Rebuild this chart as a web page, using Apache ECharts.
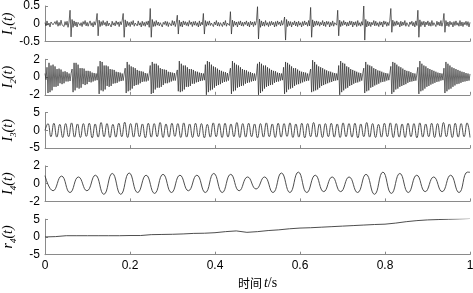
<!DOCTYPE html>
<html><head><meta charset="utf-8">
<script src="https://cdn.jsdelivr.net/npm/echarts@6/dist/echarts.min.js"></script>
<style>html,body{margin:0;padding:0;background:#fff}#c{width:473px;height:293px}</style>
</head><body><div id="c"></div>
<script>
// ---- data ----
const xTicks = [0, 0.2, 0.4, 0.6, 0.8, 1];
const yLabels = ['I1(t)', 'I2(t)', 'I3(t)', 'I4(t)', 'r4(t)'];
const yRanges = [[-0.5, 0.5, 0.5], [-2, 2, 2], [-5, 5, 5], [-2, 2, 2], [-5, 5, 5]];

// I1: noise with periodic spikes (uniform sampling over 0..1 s)
const imf1 = [
.03,-.06,.08,-.04,.02,-.09,.05,.07,-.03,-.08,.06,-.02,.09,-.07,.04,-.05,.1,-.03,.02,-.08,.06,-.04,.07,-.1,.05,
.38,-.37,.12,-.1,.08,-.06,.05,-.09,.04,.07,-.05,.03,-.08,.06,-.02,.09,-.06,.04,-.07,.02,.08,-.05,.03,-.09,.06,
-.04,.07,.29,-.34,.1,-.08,.06,-.05,.09,-.03,.04,-.07,.08,-.06,.02,.05,-.09,.07,-.04,.03,-.06,.08,-.02,.05,-.08,
.06,-.03,.09,.29,-.38,.11,-.09,.07,-.05,.04,-.08,.06,-.03,.09,-.07,.02,.05,-.06,.08,-.04,.03,-.09,.07,-.05,.04,
-.07,.06,-.03,.08,-.1,.43,-.38,.12,-.08,.06,-.07,.09,-.04,.05,-.06,.03,.08,-.09,.04,-.02,.07,-.05,.06,-.08,.03,
.05,-.06,.09,-.04,.07,-.08,.04,.24,-.29,.1,-.07,.05,-.09,.08,-.03,.06,-.05,.04,-.07,.09,-.02,.05,-.08,.06,-.04,
.07,-.05,.03,-.09,.08,-.06,.04,-.03,.29,-.29,.09,-.07,.06,-.04,.08,-.05,.02,.07,-.08,.05,-.03,.09,-.06,.04,-.07,
.03,.06,-.08,.05,-.04,.09,-.07,.02,.06,-.05,.34,-.29,.1,-.08,.07,-.04,.05,-.09,.06,-.03,.08,-.06,.04,-.07,.05,
-.02,.08,-.06,.04,-.09,.07,-.03,.05,-.08,.06,-.04,.09,.48,-.43,.13,-.1,.08,-.06,.05,-.07,.09,-.04,.03,-.08,.06,
-.05,.07,-.03,.04,-.09,.06,-.07,.08,-.02,.05,-.06,.09,-.04,.03,.19,-.46,.12,-.08,.07,-.05,.06,-.09,.04,-.03,.08,
-.06,.05,-.08,.07,-.04,.03,-.09,.06,-.05,.08,-.03,.04,-.07,.09,-.06,.46,-.38,.11,-.09,.07,-.05,.08,-.04,.06,-.07,
.04,-.03,.09,-.06,.05,-.08,.07,-.02,.06,-.09,.04,-.05,.08,-.07,.03,.06,-.04,.38,-.34,.1,-.08,.06,-.05,.09,-.03,
.05,-.07,.04,-.06,.08,-.03,.07,-.09,.05,-.04,.06,-.08,.09,-.05,.03,-.07,.06,-.04,.5,-.46,.12,-.09,.07,-.06,.05,
-.08,.04,-.03,.09,-.06,.07,-.05,.03,-.08,.06,-.04,.05,-.09,.08,-.02,.06,-.07,.04,-.05,.09,.43,-.24,.1,-.07,.06,
-.05,.08,-.03,.04,-.09,.07,-.06,.05,-.04,.09,-.07,.03,.06,-.08,.05,-.02,.07,-.06,.04,-.09,.08,-.05,.38,-.38,.11,
-.08,.06,-.04,.07,-.09,.05,-.03,.08,-.06,.04,-.07,.09,-.05,.03,.06,-.08,.07,-.04,.05,-.06,.09,-.07,.04,.29,-.24,
.09,-.06,.05,-.08,.07,-.03,.04,-.09,.06,-.05,.08,-.04,.03,-.07,.09,-.06,.05,-.08,.04,-.03,.07,-.05,.06,-.09,.04
];

// I2: decaying high-frequency bursts, one line per burst (uniform sampling over 0..1 s)
const imf2 = [
.4,-.3,
1.1,-1.8,1.6,-1.7,1.3,-1.5,1.4,-1.1,1.2,-1.1,.9,-1.0,.95,-.7,.85,-.8,.6,-.7,.65,-.5,.55,-.5,.4,-.45,.4,
.9,-1.7,1.6,-1.5,1.6,-1.2,1.4,-1.3,1.0,-1.2,1.0,-.8,.95,-.9,.7,-.8,.7,-.55,.65,-.6,.5,-.5,.45,-.4,.4,-.35,
1.2,-1.9,1.8,-1.5,1.7,-1.6,1.3,-1.4,1.3,-1.0,1.2,-1.1,.9,-1.0,.85,-.75,.8,-.7,.6,-.65,.55,-.5,.5,-.45,.4,-.4,.35,
1.0,-1.8,1.7,-1.6,1.4,-1.5,1.2,-1.3,1.1,-1.0,1.0,-.9,.8,-.85,.7,-.7,.65,-.55,.6,-.5,.45,-.5,.4,-.4,.35,
1.3,-1.9,1.7,-1.8,1.5,-1.4,1.5,-1.2,1.3,-1.2,1.0,-1.1,.9,-.9,.85,-.7,.8,-.7,.6,-.6,.55,-.5,.5,-.4,.45,-.4,.35,
.8,-1.6,1.8,-1.7,1.5,-1.6,1.3,-1.4,1.3,-1.1,1.1,-1.1,.9,-1.0,.9,-.75,.8,-.75,.65,-.6,.6,-.55,.5,-.45,.45,-.4,.4,-.35,
1.4,-2.0,1.8,-1.7,1.7,-1.5,1.4,-1.4,1.2,-1.2,1.1,-1.0,.95,-.9,.8,-.8,.7,-.65,.6,-.55,.55,-.5,.45,-.4,.4,
1.0,-1.9,1.8,-1.6,1.6,-1.5,1.4,-1.2,1.3,-1.1,1.1,-1.0,.9,-.95,.8,-.75,.75,-.65,.6,-.6,.55,-.5,.45,-.45,.4,-.4,.35,
1.5,-2.0,1.7,-1.8,1.5,-1.6,1.3,-1.3,1.3,-1.1,1.1,-1.0,.95,-.9,.8,-.85,.7,-.65,.65,-.55,.5,-.5,.45,-.4,.4,-.35,
1.1,-1.9,1.7,-1.7,1.6,-1.4,1.4,-1.3,1.2,-1.2,1.0,-1.0,1.0,-.85,.85,-.8,.7,-.7,.6,-.6,.55,-.5,.5,-.45,.4,-.4,.35,
.9,-1.7,1.9,-1.6,1.7,-1.5,1.4,-1.4,1.2,-1.2,1.1,-1.0,1.0,-.9,.85,-.8,.75,-.7,.65,-.6,.6,-.55,.5,-.45,.45,-.4,.4,-.35,
1.3,-2.0,1.8,-1.7,1.6,-1.5,1.5,-1.3,1.2,-1.2,1.1,-1.0,.9,-.9,.8,-.75,.7,-.65,.6,-.6,.5,-.5,.45,-.4,.4,
1.0,-1.8,1.7,-1.6,1.4,-1.5,1.3,-1.2,1.2,-1.1,1.0,-.95,.9,-.85,.75,-.75,.7,-.6,.6,-.55,.5,-.5,.45,-.4,.4,-.35,.35,
1.2,-1.9,1.7,-1.7,1.6,-1.4,1.4,-1.3,1.2,-1.1,1.1,-1.0,.95,-.9,.8,-.8,.7,-.65,.65,-.55,.55,-.5,.45,-.45,.4,-.4,.35,
1.1,-1.9,1.8,-1.6,1.5,-1.5,1.3,-1.3,1.2,-1.1,1.0,-1.0,.9,-.85,.8,-.75,.7,-.65,.6,-.55,.5,-.5,.45,-.4,.4,-.35,
1.0,-1.8,1.7,-1.6,1.5,-1.4,1.3,-1.3,1.1,-1.1,1.0,-.95,.9,-.8,.8,-.75,.7,-.65,.6,-.55,.55,-.5,.45,-.45,.4,-.4,.35
];

// I3: ~72 Hz oscillation, successive extrema (uniform over 0..1 s)
const imf3 = [0,
1.9,-1.8,2.0,-1.9,1.7,-2.0,1.9,-1.8,2.1,-1.9,1.8,-2.0,1.9,-1.7,2.0,-2.1,1.8,-1.9,2.2,-1.8,1.9,-2.0,1.7,-1.9,
2.0,-1.8,2.3,-2.0,1.9,-1.9,2.1,-1.8,1.8,-2.1,2.0,-1.9,1.9,-1.8,2.2,-2.0,1.8,-1.9,2.0,-1.7,1.9,-2.0,2.1,-1.9,
1.8,-2.0,2.0,-1.8,1.9,-2.1,1.7,-1.9,2.1,-1.8,1.9,-2.0,2.0,-1.9,1.8,-1.8,2.2,-2.0,1.9,-1.9,2.0,-1.8,1.8,-2.1,
1.9,-1.9,2.1,-1.8,1.8,-2.0,2.0,-1.9,1.9,-1.7,2.1,-2.0,1.8,-1.9,2.0,-2.1,1.9,-1.8,2.2,-1.9,1.8,-2.0,1.9,-1.8,
2.0,-1.9,1.8,-2.0,2.1,-1.8,1.9,-1.9,2.0,-2.1,1.8,-1.8,2.2,-1.9,1.9,-2.0,1.7,-1.9,2.0,-1.8,2.1,-2.0,1.9,-1.9,
1.8,-2.0,2.0,-1.8,1.9,-2.1,2.1,-1.9,1.8,-1.8,2.0,-2.0,1.9,-1.9,2.2,-1.8,1.8,-2.0,2.0,-1.9,1.9,-1.8,2.1,-2.0
];

// I4: ~25 Hz oscillation: start value, 50 extrema (first at 0.019 s, every 0.0199 s), end value
const imf4Start = 0.019, imf4Step = 0.0199;
const imf4 = [.9,
-.8,.85,-1.0,.75,-.8,.95,-1.2,1.15,-1.2,1.2,-1.0,.95,-1.1,1.05,-1.0,.95,-.8,.95,-1.0,1.15,-1.0,1.05,-.8,.75,
-.6,.75,-1.0,1.2,-1.0,1.3,-1.0,.95,-.9,.75,-.9,.75,-1.0,1.05,-1.2,1.3,-1.1,1.15,-1.0,.95,-.9,.75,-.9,.95,-1.0,1.3,
1.28];

// r4: residual trend, sampled every 0.025 s
const res4 = [0,.1,.35,.35,.35,.35,.35,.35,.4,.4,.65,.7,.75,.85,1.0,1.05,1.2,1.5,1.7,1.3,1.5,1.8,2.0,2.3,2.5,2.6,2.75,2.9,3.05,3.2,3.35,3.5,3.6,3.9,4.3,4.6,4.8,4.9,5.0,5.1,5.2];

// ---- build ----
function uniform(vals){ const n = vals.length; return vals.map((v,i)=>[i/(n-1), v]); }
function imf4Pairs(){
  const out = [[0, imf4[0]]];
  for (let k = 1; k < imf4.length - 1; k++) out.push([imf4Start + (k-1)*imf4Step, imf4[k]]);
  out.push([1, imf4[imf4.length-1]]);
  return out;
}
const seriesData = [uniform(imf1), uniform(imf2), uniform(imf3), imf4Pairs(), uniform(res4)];

const axisGray = '#8a8a8a';
const tops = [6, 59.3, 112.6, 165.9, 219.2];
const H = 35.5;
const grids = tops.map(t => ({left: 45, width: 425, top: t, height: H, containLabel: false, outerBoundsMode: 'none'}));

const richY = {
  i: {fontFamily: 'Liberation Serif', fontStyle: 'italic', fontSize: 14, color: '#000', lineHeight: 16, verticalAlign: 'top'},
  s: {fontFamily: 'Liberation Serif', fontStyle: 'italic', fontSize: 9, color: '#000', lineHeight: 9, padding: [8,0,0,0], verticalAlign: 'top'}
};
function yName(lbl){
  return '{i|' + lbl[0] + '}{s|' + lbl[1] + '}{i|' + lbl.slice(2) + '}';
}

const xAxes = grids.map((g, i) => ({
  gridIndex: i, type: 'value', min: 0, max: 1, interval: 0.2,
  axisLine: {show: true, onZero: false, lineStyle: {color: axisGray, width: 1}},
  axisTick: {show: true, inside: true, length: 3, lineStyle: {color: axisGray}},
  axisLabel: {show: i === 4, color: '#000', fontFamily: 'Liberation Sans', fontSize: 12, margin: 5,
              formatter: v => xTicks.includes(+v.toFixed(1)) ? String(+v.toFixed(1)) : ''},
  splitLine: {show: false},
  name: i === 4 ? '{c|时间}{i|t}{r|/s}' : '',
  nameLocation: 'middle', nameGap: 22, nameMoveOverlap: false,
  nameTextStyle: {rich: {
    c: {fontFamily: 'Noto Sans CJK SC', fontSize: 12, color: '#000'},
    i: {fontFamily: 'Liberation Serif', fontStyle: 'italic', fontSize: 14, color: '#000', padding: [0,0,0,2]},
    r: {fontFamily: 'Liberation Serif', fontSize: 14, color: '#000'}
  }}
}));

const yAxes = grids.map((g, i) => ({
  gridIndex: i, type: 'value', min: yRanges[i][0], max: yRanges[i][1], interval: yRanges[i][2],
  axisLine: {show: true, onZero: false, lineStyle: {color: axisGray, width: 1}},
  axisTick: {show: true, inside: true, length: 3, lineStyle: {color: axisGray}},
  axisLabel: {color: '#000', fontFamily: 'Liberation Sans', fontSize: 12, margin: 5},
  splitLine: {show: false},
  name: yName(yLabels[i]), nameLocation: 'middle', nameRotate: 90, nameGap: 28, nameMoveOverlap: false,
  nameTextStyle: {rich: richY}
}));

const series = seriesData.map((d, i) => ({
  type: 'line', xAxisIndex: i, yAxisIndex: i, data: d, showSymbol: false,
  smooth: (i === 2 || i === 3) ? 0.5 : false,
  lineStyle: {color: i < 2 ? '#2a2a2a' : '#3a3a3a', width: i < 2 ? 0.7 : 0.9},
  clip: true, silent: true
}));

const chart = echarts.init(document.getElementById('c'), null, {renderer: 'canvas'});
chart.setOption({animation: false, backgroundColor: '#fff', grid: grids, xAxis: xAxes, yAxis: yAxes, series: series});
</script></body></html>
